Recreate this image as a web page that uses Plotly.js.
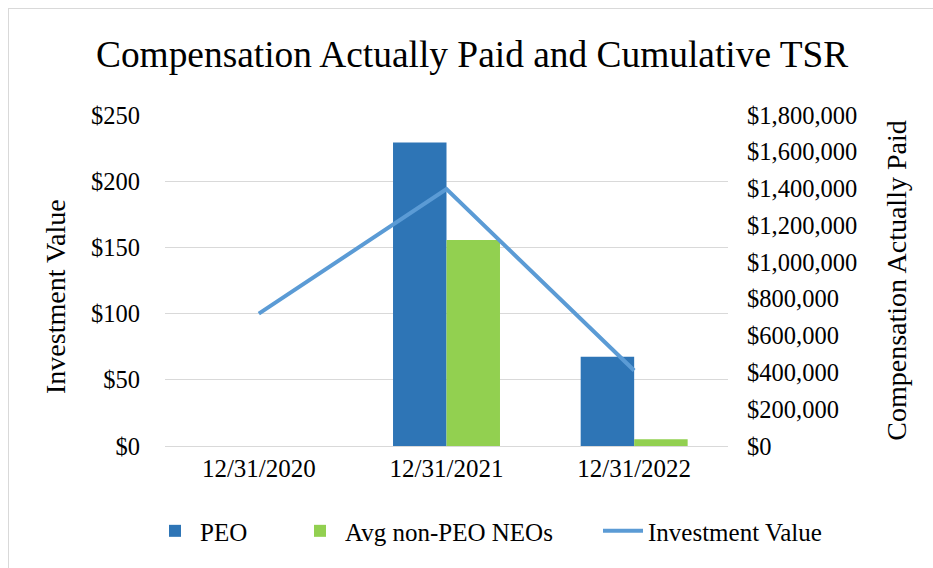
<!DOCTYPE html>
<html>
<head>
<meta charset="utf-8">
<script src="https://cdn.plot.ly/plotly-3.0.1.min.js"></script>
<style>
html,body{margin:0;padding:0;background:#fff;}
#wrap{position:relative;width:933px;height:568px;overflow:hidden;}
#chart{position:absolute;left:0;top:0;width:933px;height:568px;}
#frame{position:absolute;left:8px;top:8px;width:940px;height:570px;border:1px solid #d9d9d9;box-sizing:border-box;pointer-events:none;}
</style>
</head>
<body>
<div id="wrap"><div id="chart"></div><div id="frame"></div></div>
<script>
const categories = ["12/31/2020", "12/31/2021", "12/31/2022"];
const peo = [null, 1650000, 486000];
const nonPeo = [null, 1120000, 37000];
const investmentValue = [100, 194, 57];

const FONT = "Liberation Serif, Times New Roman, serif";
const TICK = {family: FONT, size: 24.5, color: "#000"};
const LEG = {family: FONT, size: 25, color: "#000"};

const traces = [
  {type: "bar", name: "PEO", x: categories, y: peo, yaxis: "y", marker: {color: "#2E75B6"}, legend: "legend"},
  {type: "bar", name: "Avg non-PEO NEOs", x: categories, y: nonPeo, yaxis: "y", marker: {color: "#92D050"}, legend: "legend2"},
  {type: "scatter", mode: "lines", name: "Investment Value", x: categories, y: investmentValue, yaxis: "y2",
   line: {color: "#5B9BD5", width: 4}, legend: "legend3"}
];

function leg(x) {
  return {orientation: "h", xref: "container", yref: "container", x: x, xanchor: "left",
          y: 0.065, yanchor: "middle", font: LEG, bgcolor: "rgba(0,0,0,0)", itemwidth: 40};
}

const layout = {
  width: 933, height: 568,
  margin: {l: 165, r: 205, t: 115, b: 122},
  paper_bgcolor: "#fff", plot_bgcolor: "#fff",
  font: {family: FONT, color: "#000", size: 22},
  title: {text: "Compensation Actually Paid and Cumulative TSR", font: {family: FONT, size: 37.4, color: "#000"},
          x: 0.506, xanchor: "center", y: 0.905, yanchor: "middle", xref: "container", yref: "container"},
  barmode: "group", bargap: 0.43, bargroupgap: 0,
  showlegend: true,
  legend: leg(150 / 933),
  legend2: leg(295 / 933),
  legend3: leg(598 / 933),
  xaxis: {type: "category", tickfont: {family: FONT, size: 25, color: "#000"}, showgrid: false,
          showline: false, ticks: "", ticklabelstandoff: 5, zeroline: false},
  yaxis: {side: "right", range: [0, 1800000], dtick: 200000, tickprefix: "$", tickformat: ",.0f",
          showgrid: false, zeroline: false, ticks: "", ticklabelstandoff: 18, tickfont: TICK,
          title: {text: "Compensation Actually Paid", font: {family: FONT, size: 28, color: "#000"}, standoff: 30}},
  yaxis2: {overlaying: "y", side: "left", range: [0, 250], dtick: 50, tickprefix: "$", tickformat: ",.0f",
           showgrid: true, gridcolor: "#d9d9d9", gridwidth: 1, zeroline: true, zerolinecolor: "#d9d9d9",
           ticks: "", ticklabelstandoff: 24, tickfont: TICK},
  annotations: [
    {text: "Investment Value", textangle: -90, xref: "paper", yref: "paper",
     x: (55 - 165) / 563, y: (446 - 297) / 331, xanchor: "center", yanchor: "middle", showarrow: false,
     font: {family: FONT, size: 28, color: "#000"}}
  ]
};

Plotly.newPlot("chart", traces, layout, {displayModeBar: false, staticPlot: true});
</script>
</body>
</html>
